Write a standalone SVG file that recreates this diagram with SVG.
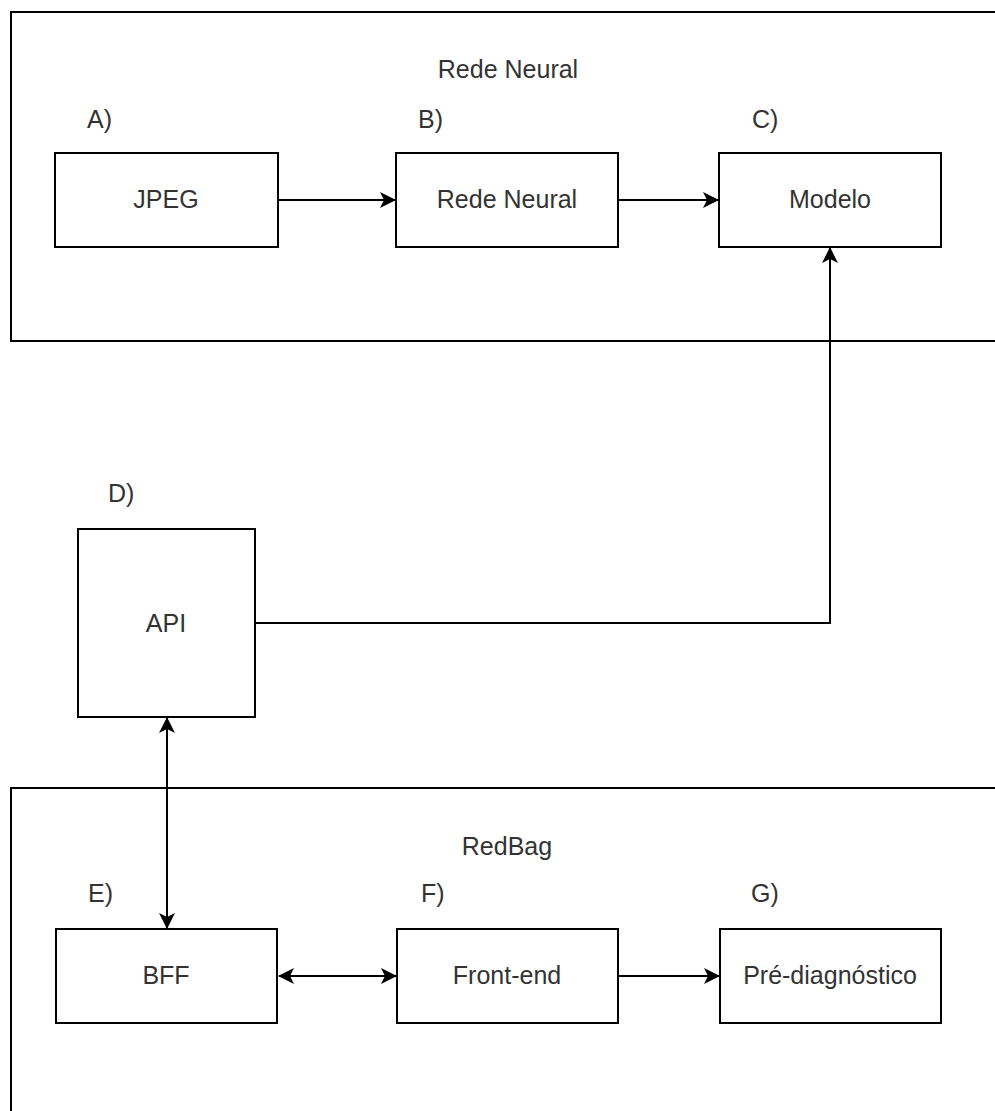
<svg xmlns="http://www.w3.org/2000/svg" width="995" height="1111" viewBox="0 0 995 1111">
<style>
.box{fill:#fff;stroke:#000;stroke-width:2}
.cont{fill:none;stroke:#000;stroke-width:2}
.t{font-family:"Liberation Sans",Arial,sans-serif;font-size:25px;fill:#333}
.c{text-anchor:middle}
.ln{fill:none;stroke:#000;stroke-width:2}
</style>
<defs>
<marker id="ah" markerUnits="userSpaceOnUse" viewBox="0 0 16 16" markerWidth="16" markerHeight="16" refX="15" refY="8" orient="auto-start-reverse">
<path d="M0,0 L16,8 L0,16 L4,8 Z" fill="#000"/>
</marker>
</defs>
<rect width="995" height="1111" fill="#fff"/>
<g id="rede-neural-container">
<rect class="cont" x="11" y="12" width="1000" height="329"/>
<text class="t c" x="508" y="78">Rede Neural</text>
</g>
<g id="redbag-container">
<rect class="cont" x="11" y="788" width="1000" height="340"/>
<text class="t c" x="507" y="855">RedBag</text>
</g>
<g id="connectors">
<line class="ln" x1="278" y1="200" x2="395" y2="200" marker-end="url(#ah)"/>
<line class="ln" x1="618" y1="200" x2="718" y2="200" marker-end="url(#ah)"/>
<polyline class="ln" points="255,623 830,623 830,248" marker-end="url(#ah)"/>
<line class="ln" x1="167" y1="718" x2="167" y2="928" marker-start="url(#ah)" marker-end="url(#ah)"/>
<line class="ln" x1="279" y1="976" x2="396" y2="976" marker-start="url(#ah)" marker-end="url(#ah)"/>
<line class="ln" x1="618" y1="976" x2="719" y2="976" marker-end="url(#ah)"/>
</g>
<g id="node-a">
<text class="t" x="87" y="128">A)</text>
<rect class="box" x="55" y="153" width="223" height="94"/>
<text class="t c" x="166" y="208">JPEG</text>
</g>
<g id="node-b">
<text class="t" x="418" y="128">B)</text>
<rect class="box" x="396" y="153" width="222" height="94"/>
<text class="t c" x="507" y="208">Rede Neural</text>
</g>
<g id="node-c">
<text class="t" x="752" y="128">C)</text>
<rect class="box" x="719" y="153" width="222" height="94"/>
<text class="t c" x="830" y="208">Modelo</text>
</g>
<g id="node-d">
<text class="t" x="108" y="502">D)</text>
<rect class="box" x="78" y="529" width="177" height="188"/>
<text class="t c" x="166" y="632">API</text>
</g>
<g id="node-e">
<text class="t" x="88" y="902">E)</text>
<rect class="box" x="56" y="929" width="221" height="94"/>
<text class="t c" x="166" y="984">BFF</text>
</g>
<g id="node-f">
<text class="t" x="421" y="902">F)</text>
<rect class="box" x="397" y="929" width="221" height="94"/>
<text class="t c" x="507" y="984">Front-end</text>
</g>
<g id="node-g">
<text class="t" x="751" y="902">G)</text>
<rect class="box" x="720" y="929" width="221" height="94"/>
<text class="t c" x="830" y="984">Pré-diagnóstico</text>
</g>
</svg>
